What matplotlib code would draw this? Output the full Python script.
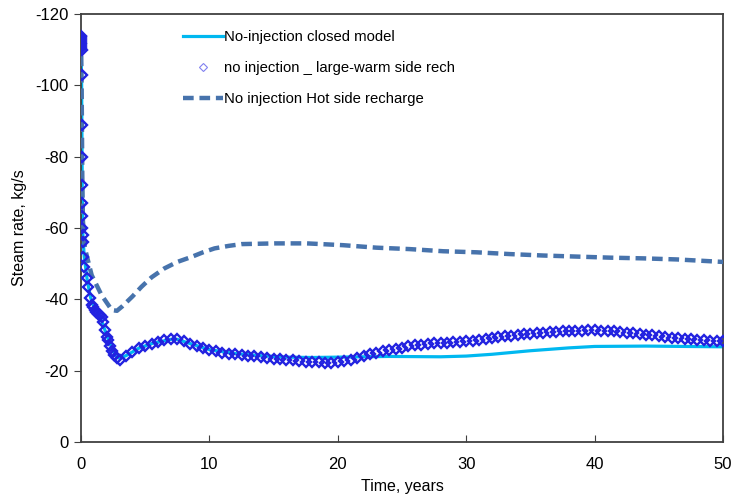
import numpy as np
import matplotlib
matplotlib.use("Agg")
import matplotlib.pyplot as plt

plt.rcParams['font.family'] = ['Liberation Sans', 'DejaVu Sans']
plt.rcParams['axes.unicode_minus'] = False

# No-injection closed model (solid cyan)
t_closed = [0, 0.05, 0.1, 0.15, 0.25, 0.5, 0.75, 1.0, 1.5, 2.0, 2.5, 2.8, 3.0, 3.5,
            4.5, 5.5, 7.0, 7.5, 8.5, 10, 12, 14, 16, 18, 20, 24, 28, 30, 32, 35,
            38, 40, 44, 47, 50]
q_closed = [-113, -100, -70, -58, -52, -45, -40.5, -38, -35, -30, -25.5, -23.8, -23.5, -24.2,
            -26.3, -27.6, -28.8, -28.8, -27.6, -25.9, -24.8, -24.2, -23.8, -23.7, -23.8, -24.0,
            -23.9, -24.1, -24.6, -25.6, -26.4, -26.8, -26.9, -26.8, -26.7]

# no injection _ large-warm side rech (diamond markers)
t_warm_early = [0.0, 0.0, 0.01, 0.01, 0.02, 0.02, 0.03, 0.03, 0.04, 0.05, 0.06, 0.07, 0.08,
                0.09, 0.1, 0.11, 0.12, 0.13, 0.17, 0.25, 0.44, 0.57, 0.7, 0.85, 0.96, 1.1,
                1.2, 1.35, 1.48, 1.6, 1.7, 1.87, 2.0, 2.1, 2.25, 2.4, 2.6, 2.8]
q_warm_early = [-114, -113.5, -113, -112.5, -112, -111.5, -111, -110.5, -110, -103, -89, -80,
                -72, -67, -63.5, -60, -58, -56, -52, -49, -46, -43.5, -40.5, -38.5, -38, -37,
                -36.5, -36, -35.5, -35, -33.6, -31.4, -29.5, -28.6, -27, -25.5, -24.3, -23.5]
t_warm = np.arange(3.0, 50.01, 0.5)
q_warm = [-23.1, -24.2, -25.3, -26.3, -27.0, -27.6, -28.1, -28.5, -28.8, -28.8,
          -28.4, -27.6, -26.9, -26.3, -25.9, -25.5, -25.1, -24.8, -24.6, -24.4,
          -24.2, -24.0, -23.8, -23.6, -23.4, -23.2, -23.0, -22.9, -22.7, -22.5,
          -22.4, -22.3, -22.2, -22.2, -22.4, -22.7, -23.1, -23.6, -24.1, -24.6,
          -25.0, -25.4, -25.8, -26.2, -26.5, -26.8, -27.1, -27.3, -27.5, -27.7,
          -27.8, -27.9, -28.0, -28.1, -28.2, -28.4, -28.6, -28.9, -29.1, -29.4,
          -29.6, -29.8, -30.0, -30.2, -30.4, -30.5, -30.7, -30.8, -30.9, -31.0,
          -31.1, -31.2, -31.2, -31.3, -31.3, -31.2, -31.1, -31.0, -30.9, -30.7,
          -30.5, -30.3, -30.1, -29.9, -29.7, -29.5, -29.3, -29.2, -29.0, -28.9,
          -28.7, -28.6, -28.4, -28.3, -28.2]

# No injection Hot side recharge (dashed)
t_hot = [0, 0.05, 0.1, 0.15, 0.3, 0.83, 1.6, 2.4, 2.8, 3.2, 4.0, 4.7, 5.5, 6.5, 7.5, 8.6,
         9.5, 10.4, 11.5, 12.5, 15.1, 17.6, 20.4, 23, 25.6, 28.2, 30.8, 33.4, 36, 38.6,
         41.2, 43.8, 46.4, 50]
q_hot = [-113, -100, -75, -62, -54.4, -46.8, -41.2, -37.0, -36.8, -38.0, -40.8, -43.5, -46.2,
         -48.7, -50.5, -51.9, -53.2, -54.3, -55.0, -55.5, -55.7, -55.7, -55.2, -54.5, -54.1,
         -53.5, -53.2, -52.7, -52.3, -52.0, -51.7, -51.5, -51.2, -50.5]

fig = plt.figure(figsize=(7.33, 5.04), dpi=100)
ax = fig.add_axes([0.1105, 0.123, 0.876, 0.849])

ax.plot(t_closed, q_closed, color='#00B8F0', lw=2.3, zorder=2,
        label='No-injection closed model')
ax.plot(list(t_warm_early) + list(t_warm), q_warm_early + q_warm, ls='none', marker='D',
        ms=5.2, mfc='none', mec='#2222E0', mew=1.7, zorder=4,
        label='no injection _ large-warm side rech')
ax.plot(t_hot, q_hot, color='#4773AC', lw=3.2, dashes=(2.4, 1.3), zorder=3,
        label='No injection Hot side recharge')

ax.set_xlim(0, 50)
ax.set_ylim(0, -120)
ax.set_xticks(range(0, 51, 10))
ax.set_yticks(range(0, -121, -20))

for s in ax.spines.values():
    s.set_color('#404040')
    s.set_linewidth(1.3)
ax.tick_params(axis='x', direction='in', length=5, color='#404040', labelsize=12, pad=11)
ax.tick_params(axis='y', direction='out', length=5, color='#404040', labelsize=12, pad=4)

ax.set_xlabel('Time, years', fontsize=11.5, labelpad=5)
ax.set_ylabel('Steam rate, kg/s', fontsize=11.5, labelpad=6)

leg = ax.legend(loc='upper left', bbox_to_anchor=(0.138, 0.993), frameon=False,
                fontsize=10.7, handlelength=2.7, handletextpad=0.05, labelspacing=1.12)
leg.legend_handles[1].set_markeredgecolor('#8080F0')
leg.legend_handles[1].set_markeredgewidth(0.8)
leg.legend_handles[1].set_markersize(4.5)

fig.savefig('out.png', dpi=100)
